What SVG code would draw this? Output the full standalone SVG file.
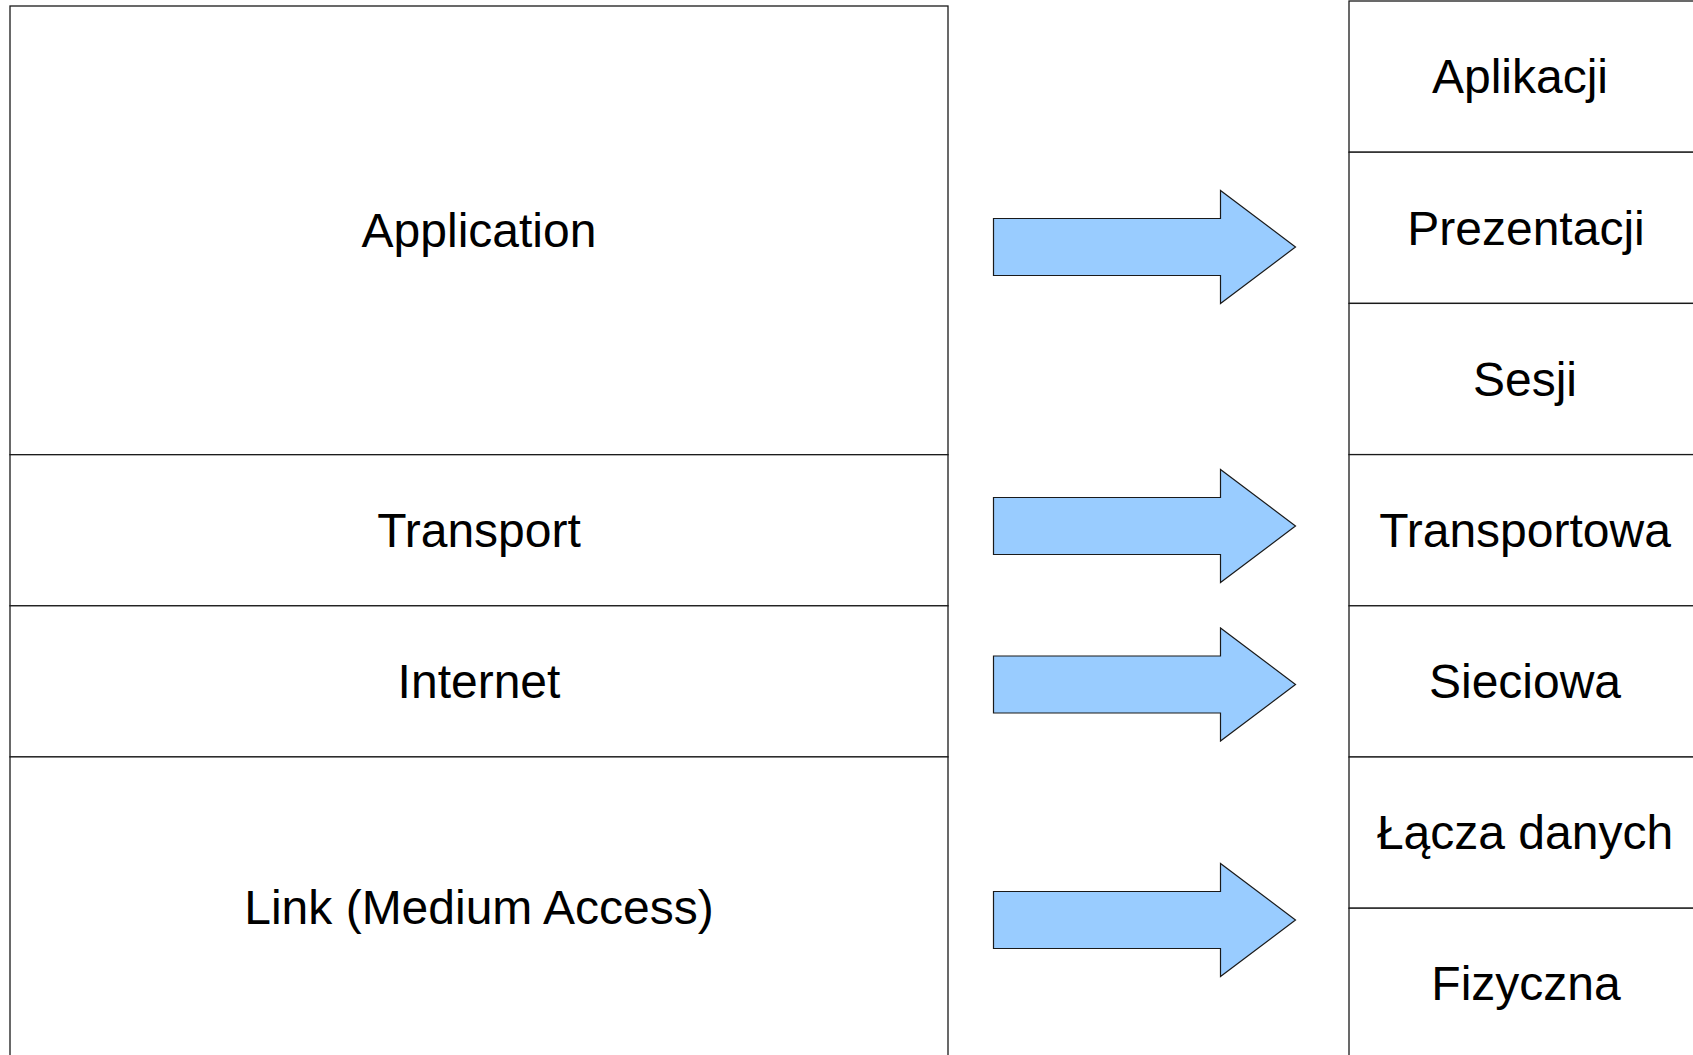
<svg xmlns="http://www.w3.org/2000/svg" width="1693" height="1055" viewBox="0 0 1693 1055">
  <style>
    .layer { fill: #ffffff; stroke: #1a1a1a; stroke-width: 1.3; }
    .label { font-family: "Liberation Sans", Arial, sans-serif; font-size: 48px; fill: #000000; text-anchor: middle; }
    .arrow { fill: #99ccff; stroke: #1a1a1a; stroke-width: 1.2; stroke-linejoin: miter; }
  </style>
  <defs>
    <!-- block arrow, tip at origin -->
    <path id="blockArrow" d="M -302 -28.5 L -75 -28.5 L -75 -56.5 L 0 0 L -75 56.5 L -75 28.5 L -302 28.5 Z"/>
  </defs>
  <rect width="1693" height="1055" fill="#ffffff"/>

  <!-- TCP/IP model stack -->
  <g id="tcpip-application"><rect class="layer" x="10" y="6" width="938" height="448.7"/><text class="label" x="479" y="247">Application</text></g>
  <g id="tcpip-transport"><rect class="layer" x="10" y="454.7" width="938" height="151.1"/><text class="label" x="479" y="547">Transport</text></g>
  <g id="tcpip-internet"><rect class="layer" x="10" y="605.8" width="938" height="151.1"/><text class="label" x="479" y="698">Internet</text></g>
  <g id="tcpip-link"><rect class="layer" x="10" y="756.9" width="938" height="310"/><text class="label" x="479" y="924">Link (Medium Access)</text></g>

  <!-- OSI model stack -->
  <g id="osi-aplikacji"><rect class="layer" x="1349" y="1" width="360" height="151.2"/><text class="label" x="1520" y="93">Aplikacji</text></g>
  <g id="osi-prezentacji"><rect class="layer" x="1349" y="152.2" width="360" height="151.2"/><text class="label" x="1526" y="244.5">Prezentacji</text></g>
  <g id="osi-sesji"><rect class="layer" x="1349" y="303.4" width="360" height="151.2"/><text class="label" x="1525" y="395.5">Sesji</text></g>
  <g id="osi-transportowa"><rect class="layer" x="1349" y="454.6" width="360" height="151.2"/><text class="label" x="1525" y="546.7">Transportowa</text></g>
  <g id="osi-sieciowa"><rect class="layer" x="1349" y="605.8" width="360" height="151.2"/><text class="label" x="1525" y="698">Sieciowa</text></g>
  <g id="osi-lacza"><rect class="layer" x="1349" y="757" width="360" height="151.2"/><text class="label" x="1525" y="849">Łącza danych</text></g>
  <g id="osi-fizyczna"><rect class="layer" x="1349" y="908.2" width="360" height="160"/><text class="label" x="1526" y="999.5">Fizyczna</text></g>

  <!-- mapping arrows -->
  <g id="connectors">
    <use href="#blockArrow" class="arrow" transform="translate(1295.5 247)"/>
    <use href="#blockArrow" class="arrow" transform="translate(1295.5 526)"/>
    <use href="#blockArrow" class="arrow" transform="translate(1295.5 684.5)"/>
    <use href="#blockArrow" class="arrow" transform="translate(1295.5 920)"/>
  </g>
</svg>
